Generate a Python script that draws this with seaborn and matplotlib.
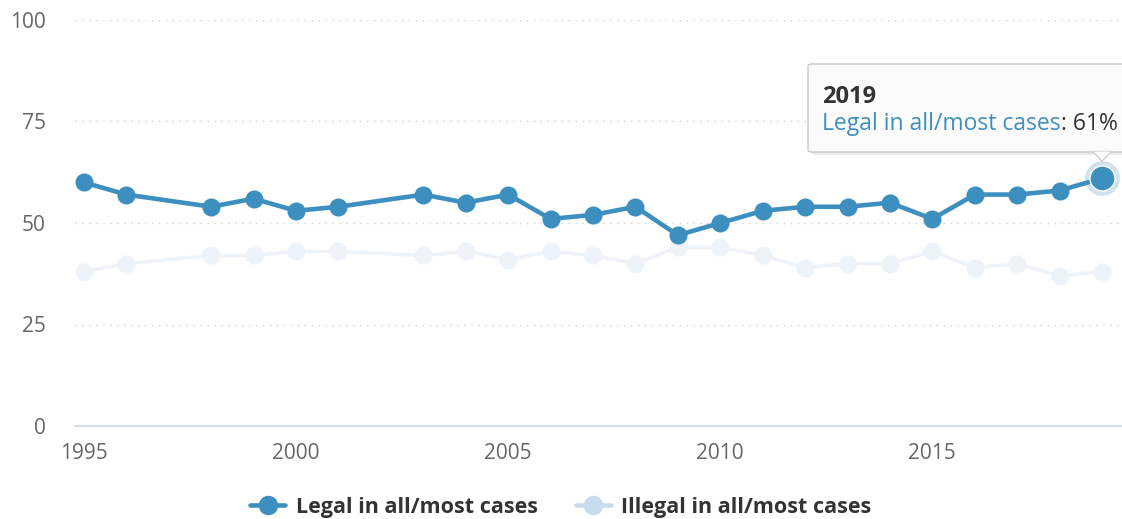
import pandas as pd
import matplotlib.pyplot as plt
import seaborn as sns
from matplotlib.patches import FancyBboxPatch, Polygon
from matplotlib.lines import Line2D

# Data
years = [1995, 1996, 1998, 1999, 2000, 2001, 2003, 2004, 2005, 2006, 2007, 2008,
         2009, 2010, 2011, 2012, 2013, 2014, 2015, 2016, 2017, 2018, 2019]
legal = [60, 57, 54, 56, 53, 54, 57, 55, 57, 51, 52, 54,
         47, 50, 53, 54, 54, 55, 51, 57, 57, 58, 61]
illegal = [38, 40, 42, 42, 43, 43, 42, 43, 41, 43, 42, 40,
           44, 44, 42, 39, 40, 40, 43, 39, 40, 37, 38]
series_names = ['Legal in all/most cases', 'Illegal in all/most cases']
x_ticks = [1995, 2000, 2005, 2010, 2015]
y_ticks = [0, 25, 50, 75, 100]

legal_color = '#3d8fc0'
illegal_color = '#edf3f9'
illegal_legend_color = '#c8dcee'

sns.set_style('white')
plt.rcParams['font.family'] = ['Open Sans', 'DejaVu Sans']

df = pd.DataFrame({'year': years, series_names[0]: legal, series_names[1]: illegal})

fig = plt.figure(figsize=(11.22, 5.19), dpi=100)
ax = fig.add_axes([75 / 1122, 93 / 519, 1047 / 1122, 406 / 519])

# faded series first, then the highlighted one on top
sns.lineplot(data=df, x='year', y=series_names[1], ax=ax, color=illegal_color,
             linewidth=2.5, marker='o', markersize=13, markeredgewidth=0, zorder=3)
sns.lineplot(data=df, x='year', y=series_names[0], ax=ax, color=legal_color,
             linewidth=3.3, marker='o', markersize=13, markeredgewidth=0, zorder=4)

# hovered point
last = df.iloc[-1]
ax.plot(last['year'], last[series_names[0]], 'o', ms=25, color=legal_color, alpha=0.25,
        mec='none', zorder=5, clip_on=False)
ax.plot(last['year'], last[series_names[0]], 'o', ms=18, color=legal_color,
        mec='white', mew=1, zorder=6, clip_on=False)

ax.set_xlim(1994.79, 2019.47)
ax.set_ylim(0, 100)
ax.set_xticks(x_ticks)
ax.set_yticks(y_ticks)
ax.set_xlabel('')
ax.set_ylabel('')
for s in ['top', 'right', 'left']:
    ax.spines[s].set_visible(False)
ax.spines['bottom'].set_color('#ccd6eb')
ax.spines['bottom'].set_linewidth(1.2)
for yv in y_ticks[1:]:
    ax.axhline(yv, color='#d0d0d0', linestyle=(0, (1, 4)), linewidth=1, zorder=1)
ax.tick_params(axis='both', length=0, labelsize=15, labelcolor='#666666')
ax.tick_params(axis='y', pad=21)
ax.tick_params(axis='x', pad=12)

# legend
handles = [Line2D([], [], color=legal_color, lw=3.3, marker='o', ms=13),
           Line2D([], [], color=illegal_legend_color, lw=3.3, marker='o', ms=13)]
fig.legend(handles, series_names, loc='center', bbox_to_anchor=(0.5, 12 / 519), ncol=2,
           frameon=False, prop={'size': 15.5, 'weight': 'bold'}, labelcolor='#333333',
           handlelength=1.6, columnspacing=1.8, handletextpad=0.5)

# tooltip
def fx(px):
    return px / 1122

def fy(py):
    return 1 - py / 519

shadow = FancyBboxPatch((fx(811), fy(155)), fx(320), 88 / 519,
                        boxstyle='round,pad=0,rounding_size=0.004', transform=fig.transFigure,
                        facecolor='#000000', alpha=0.08, edgecolor='none', zorder=9)
fig.patches.append(shadow)
box = FancyBboxPatch((fx(808), fy(152)), fx(320), 88 / 519,
                     boxstyle='round,pad=0,rounding_size=0.004', transform=fig.transFigure,
                     facecolor='#fbfbfb', edgecolor='#c8c8c8', linewidth=1, zorder=10)
fig.patches.append(box)
pointer = Polygon([(fx(1093), fy(151.5)), (fx(1111), fy(151.5)), (fx(1102), fy(161))],
                  closed=True, transform=fig.transFigure, facecolor='#fbfbfb',
                  edgecolor='#c8c8c8', linewidth=1, zorder=10)
fig.patches.append(pointer)
fig.patches.append(Polygon([(fx(1093.5), fy(151.5)), (fx(1110.5), fy(151.5)), (fx(1102), fy(160))],
                           closed=True, transform=fig.transFigure, facecolor='#fbfbfb',
                           edgecolor='none', zorder=11))

fig.text(fx(822), fy(97), '2019', fontsize=17, fontweight='bold', color='#333333',
         va='center', ha='left', zorder=12)
t1 = fig.text(fx(822), fy(124), series_names[0], fontsize=16.5, color=legal_color,
              va='center', ha='left', zorder=12)
fig.canvas.draw()
ext = t1.get_window_extent()
fig.text(ext.x1 / fig.bbox.width, fy(124), ': 61%', fontsize=16.5, color='#333333',
         va='center', ha='left', zorder=12)

fig.savefig('out.png', dpi=100)
